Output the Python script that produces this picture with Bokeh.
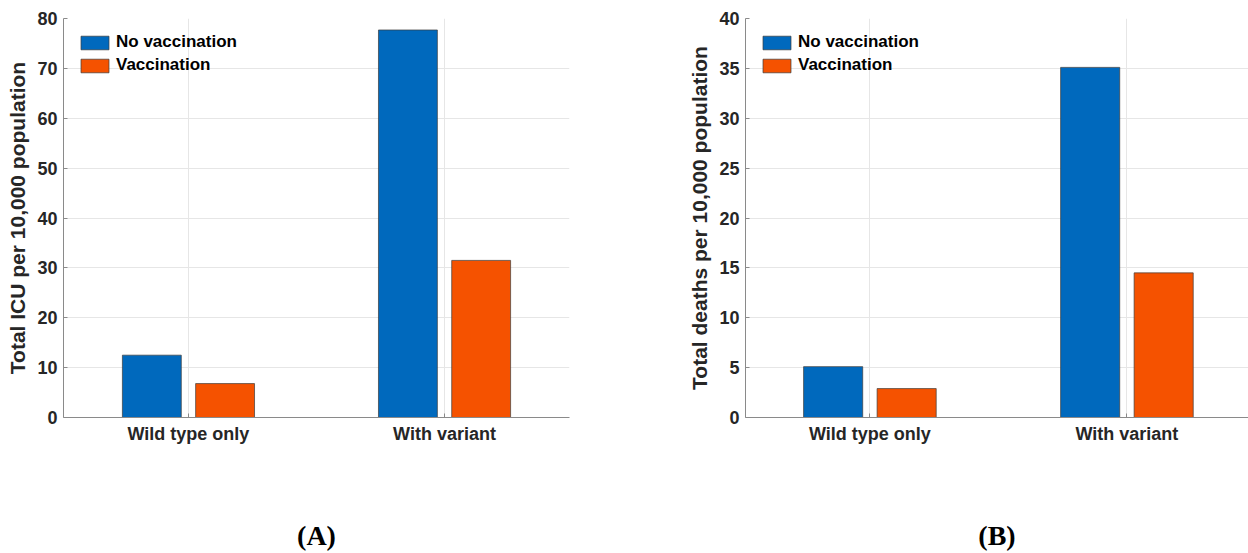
from bokeh.plotting import figure
from bokeh.layouts import row
from bokeh.models import FixedTicker, Range1d
from bokeh.embed import file_html
from bokeh.resources import INLINE

categories = ["Wild type only", "With variant"]
series = ["No vaccination", "Vaccination"]
icu_no_vacc = [12.5, 77.7]
icu_vacc = [6.8, 31.5]
deaths_no_vacc = [5.1, 35.1]
deaths_vacc = [2.9, 14.5]
icu_ticks = [0, 10, 20, 30, 40, 50, 60, 70, 80]
death_ticks = [0, 5, 10, 15, 20, 25, 30, 35, 40]
colors = ["#0069BD", "#F55200"]

SANS = "Liberation Sans"


def make_panel(vals_no, vals_vac, ylabel, ymax, yticks, panel_label,
               width, border_left, border_right, x_start, x_end):
    p = figure(width=width, height=553, output_backend="svg", toolbar_location=None,
               x_range=Range1d(x_start, x_end), y_range=Range1d(0, ymax),
               min_border_left=border_left, min_border_right=border_right,
               min_border_top=18, min_border_bottom=136)
    xs = [i + 1 for i in range(len(categories))]
    off = 0.143
    bw = 0.23
    p.vbar(x=[x - off for x in xs], top=vals_no, width=bw, fill_color=colors[0],
           line_color="#3c3c3c", line_width=0.7, legend_label=series[0])
    p.vbar(x=[x + off for x in xs], top=vals_vac, width=bw, fill_color=colors[1],
           line_color="#3c3c3c", line_width=0.7, legend_label=series[1])

    p.outline_line_color = None
    p.background_fill_color = "white"

    p.xaxis.ticker = FixedTicker(ticks=xs)
    p.xaxis.major_label_overrides = {x: c for x, c in zip(xs, categories)}
    p.yaxis.ticker = FixedTicker(ticks=yticks)

    for ax in (p.xaxis, p.yaxis):
        ax.axis_line_color = "#8a8a8a"
        ax.axis_line_width = 1
        ax.major_tick_in = 4
        ax.major_tick_out = 0
        ax.minor_tick_line_color = None
        ax.major_tick_line_color = "#8a8a8a"
        ax.major_label_text_font = SANS
        ax.major_label_text_font_style = "bold"
        ax.major_label_text_font_size = "18px"
        ax.major_label_text_color = "#262626"
        ax.major_label_standoff = 6

    p.yaxis.axis_label = ylabel
    p.yaxis.axis_label_text_font = SANS
    p.yaxis.axis_label_text_font_style = "bold"
    p.yaxis.axis_label_text_font_size = "21px"
    p.yaxis.axis_label_text_color = "#262626"
    p.yaxis.axis_label_standoff = 5

    p.xaxis.axis_label = panel_label
    p.xaxis.axis_label_text_font = "Liberation Serif"
    p.xaxis.axis_label_text_font_style = "bold"
    p.xaxis.axis_label_text_font_size = "28px"
    p.xaxis.axis_label_text_color = "black"
    p.xaxis.axis_label_standoff = 73

    p.xgrid.grid_line_color = "#e6e6e6"
    p.ygrid.grid_line_color = "#e6e6e6"

    lg = p.legend[0]
    lg.location = "top_left"
    lg.margin = 4
    lg.padding = 10
    lg.background_fill_alpha = 0
    lg.border_line_alpha = 0
    lg.label_text_font = SANS
    lg.label_text_font_style = "bold"
    lg.label_text_font_size = "17px"
    lg.label_text_color = "black"
    lg.glyph_width = 35
    lg.glyph_height = 17
    lg.label_height = 17
    lg.spacing = 3
    lg.label_standoff = 4
    return p


pA = make_panel(icu_no_vacc, icu_vacc, "Total ICU per 10,000 population", 80, icu_ticks,
                "(A)", 685, 63, 116, 0.512, 2.488)
pB = make_panel(deaths_no_vacc, deaths_vacc, "Total deaths per 10,000 population", 40,
                death_ticks, "(B)", 563, 58, 0, 0.516, 2.473)

layout = row(pA, pB)
open("out.html", "w").write(file_html(layout, INLINE))
